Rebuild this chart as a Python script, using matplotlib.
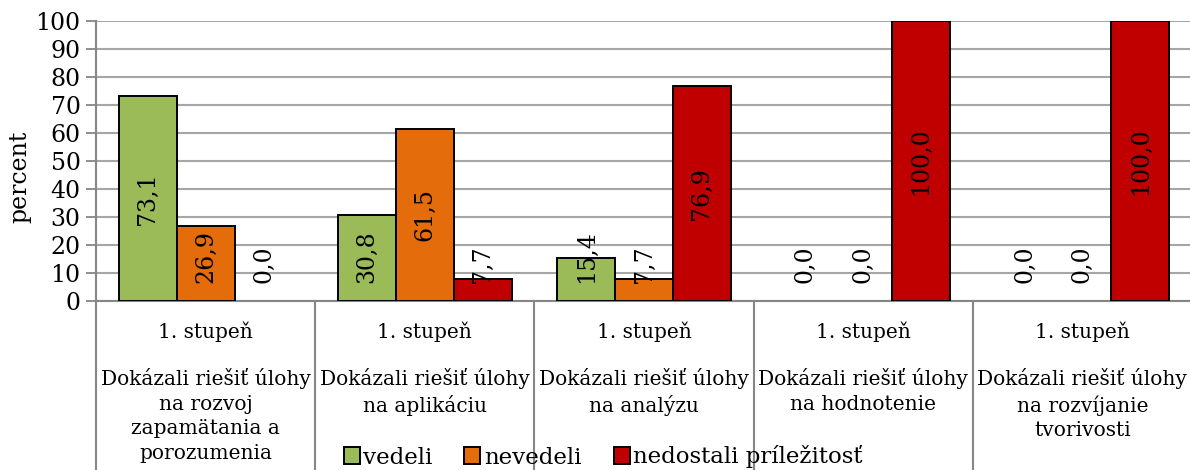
from matplotlib import pyplot as plt
from matplotlib.patches import Patch

plt.rcParams['font.family'] = ['DejaVu Serif']

stupen = ['1. stupeň'] * 5
ulohy = ['Dokázali riešiť úlohy\nna rozvoj\nzapamätania a\nporozumenia',
         'Dokázali riešiť úlohy\nna aplikáciu',
         'Dokázali riešiť úlohy\nna analýzu',
         'Dokázali riešiť úlohy\nna hodnotenie',
         'Dokázali riešiť úlohy\nna rozvíjanie\ntvorivosti']
series = ['vedeli', 'nevedeli', 'nedostali príležitosť']
vedeli = [73.1, 30.8, 15.4, 0.0, 0.0]
nevedeli = [26.9, 61.5, 7.7, 0.0, 0.0]
nedostali = [0.0, 7.7, 76.9, 100.0, 100.0]
farby = ['#9BBB59', '#E46C0A', '#C00000']

fig = plt.figure(figsize=(11.9, 4.7), dpi=100)
ax = fig.add_axes([96 / 1190, 1 - 301 / 470, 1096 / 1190, 280 / 470])
ax.set_xlim(0, 5)
ax.set_ylim(0, 100)

sirka = 0.264
stred = [i + 0.5 for i in range(5)]
renderer = fig.canvas.get_renderer()
for k, (hodnoty, farba) in enumerate(zip([vedeli, nevedeli, nedostali], farby)):
    x = [s + (k - 1) * sirka for s in stred]
    ax.bar(x, hodnoty, sirka, color=farba, edgecolor='black',
           linewidth=[1.4 if v > 0 else 0 for v in hodnoty], zorder=3)
    for xi, v in zip(x, hodnoty):
        t = ax.text(xi, v / 2, f'{v:.1f}'.replace('.', ','), rotation=90,
                    ha='center', va='center', fontsize=17, zorder=4)
        # ak sa popis nezmesti, posun ho nahor (ako Excel)
        bb = t.get_window_extent(renderer).transformed(ax.transData.inverted())
        if bb.y0 < 6.4:
            t.set_y(v / 2 + (6.4 - bb.y0))

ax.set_yticks(range(0, 101, 10))
ax.tick_params(axis='y', labelsize=17, length=7, color='#868686', width=1.3, pad=4)
ax.set_xticks([])
ax.grid(axis='y', color='#A6A6A6', linewidth=1.5, zorder=0)
ax.set_axisbelow(True)
for s in ['top', 'right']:
    ax.spines[s].set_visible(False)
for s in ['left', 'bottom']:
    ax.spines[s].set_color('#868686')
    ax.spines[s].set_linewidth(1.5)
fig.text(20 / 1190, 1 - 177 / 470, 'percent', rotation=90, ha='center', va='center',
         fontsize=17)

# kategórie pod osou
tr = ax.get_xaxis_transform()
for i in range(6):
    ax.plot([i, i], [0, -0.61], color='#868686', linewidth=1.5, transform=tr, clip_on=False)
for s, a, b in zip(stred, stupen, ulohy):
    ax.text(s, -31 / 280, a, ha='center', va='center', fontsize=14.5, transform=tr)
    ax.text(s, -67 / 280, b, ha='center', va='top', fontsize=14.5, transform=tr,
            linespacing=1.37)

handles = [Patch(facecolor=f, edgecolor='black', linewidth=1.4) for f in farby]
fig.legend(handles, series, loc='center', bbox_to_anchor=(603 / 1190, 1 - 457 / 470),
           ncol=3, frameon=False, fontsize=16.5, handlelength=0.7, handleheight=0.7,
           handletextpad=0.15, columnspacing=1.4, borderpad=0)

plt.savefig('out.png', dpi=100)
